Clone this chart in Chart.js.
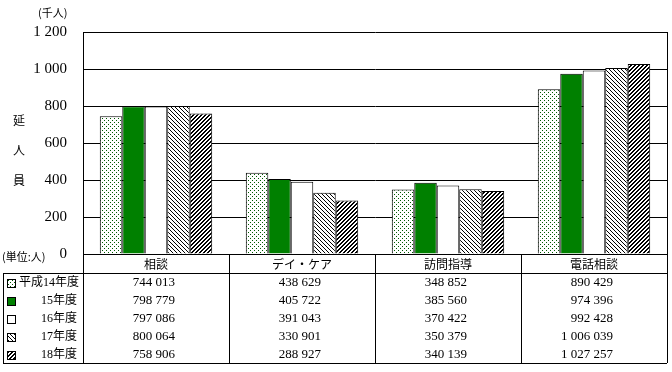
<!DOCTYPE html>
<html>
<head>
<meta charset="utf-8">
<script src="https://cdn.jsdelivr.net/npm/chart.js@4/dist/chart.umd.min.js"></script>
<style>
  html, body { margin: 0; padding: 0; background: #fff; }
  #grafica { display: block; }
</style>
</head>
<body>
<canvas id="grafica" width="672" height="372"></canvas>
<script>
// datos (personas)
const categorias = ['相談', 'デイ・ケア', '訪問指導', '電話相談'];
const anios = ['平成14年度', '15年度', '16年度', '17年度', '18年度'];
const h14 = [744013, 438629, 348852, 890429];
const h15 = [798779, 405722, 385560, 974396];
const h16 = [797086, 391043, 370422, 992428];
const h17 = [800064, 330901, 350379, 1006039];
const h18 = [758906, 288927, 340139, 1027257];
const series = [h14, h15, h16, h17, h18];
const yTicks = [0, 200, 400, 600, 800, 1000, 1200];

const serif = '"Liberation Serif", "Noto Sans CJK JP", serif';
const gothic = '"Noto Sans CJK JP", sans-serif';

// tramas de relleno
const makePattern = (tipo) => {
    const c = document.createElement('canvas');
    c.width = 4;
    c.height = 4;
    const ctx = c.getContext('2d');
    ctx.fillStyle = '#fff';
    ctx.fillRect(0, 0, 4, 4);
    if (tipo === 'puntos') {
        ctx.fillStyle = '#005a00';
        ctx.fillRect(0, 0, 1, 1);
        ctx.fillRect(2, 2, 1, 1);
    } else if (tipo === 'diag') {
        ctx.fillStyle = '#000';
        for (let i = 0; i < 4; i++) ctx.fillRect(i, i, 1, 1);
    } else if (tipo === 'diagGruesa') {
        ctx.fillStyle = '#000';
        for (let y = 0; y < 4; y++) {
            ctx.fillRect(3 - y, y, 1, 1);
            ctx.fillRect((4 - y) % 4, y, 1, 1);
        }
    }
    return ctx.createPattern(c, 'repeat');
};

const rellenos = [
    makePattern('puntos'),
    '#008000',
    '#ffffff',
    makePattern('diag'),
    makePattern('diagGruesa')
];

// tabla de datos + textos extra
const tablaPlugin = {
    id: 'tabla',
    afterDraw(chart) {
        const { ctx, chartArea, scales } = chart;
        const x = scales.x;
        const ancho = x.width / categorias.length;
        const yTop = chartArea.bottom;
        const yHead = yTop + 19;
        const filaH = 18;
        const yBottom = yHead + filaH * anios.length;

        ctx.save();
        ctx.strokeStyle = '#000';
        ctx.lineWidth = 1;

        // marco derecho del área
        ctx.beginPath();
        ctx.moveTo(chartArea.right + 0.5, chartArea.top);
        ctx.lineTo(chartArea.right + 0.5, chartArea.bottom);
        ctx.stroke();

        // líneas de la tabla
        ctx.beginPath();
        ctx.moveTo(chartArea.left, yHead + 0.5);
        ctx.lineTo(chartArea.right, yHead + 0.5);
        ctx.moveTo(3, yHead + 0.5);
        ctx.lineTo(chartArea.left, yHead + 0.5);
        ctx.moveTo(3, yBottom + 0.5);
        ctx.lineTo(chartArea.right, yBottom + 0.5);
        ctx.moveTo(3.5, yHead);
        ctx.lineTo(3.5, yBottom);
        for (let i = 0; i <= categorias.length; i++) {
            const px = Math.round(x.left + ancho * i) + 0.5;
            ctx.moveTo(px, yTop);
            ctx.lineTo(px, yBottom);
        }
        ctx.stroke();

        // encabezados
        ctx.fillStyle = '#000';
        ctx.textBaseline = 'middle';
        ctx.textAlign = 'center';
        ctx.font = '12px ' + gothic;
        categorias.forEach((cat, i) => {
            ctx.fillText(cat, x.getPixelForTick(i), yTop + 10);
        });

        // valores
        ctx.font = '13px ' + serif;
        ctx.textAlign = 'right';
        series.forEach((serie, f) => {
            const cy = yHead + filaH * f + filaH / 2 + 1;
            serie.forEach((v, i) => {
                const txt = v.toLocaleString('en-US').replace(/,/g, ' ');
                ctx.fillText(txt, x.getPixelForTick(i) + 19, cy);
            });
        });

        // leyenda en la primera columna
        anios.forEach((a, f) => {
            const cy = yHead + filaH * f + filaH / 2 + 1;
            ctx.fillStyle = rellenos[f];
            ctx.fillRect(7, cy - 4, 8, 8);
            ctx.strokeStyle = '#000';
            ctx.strokeRect(7.5, cy - 3.5, 8, 8);
            ctx.fillStyle = '#000';
            ctx.font = '12px ' + serif;
            if (f === 0) {
                ctx.textAlign = 'left';
                ctx.fillText(a, 19, cy);
            } else {
                ctx.textAlign = 'right';
                ctx.fillText(a, 77, cy);
            }
        });

        // unidades y título del eje
        ctx.textAlign = 'left';
        ctx.font = '11px ' + gothic;
        ctx.fillText('(単位:人)', 2, yTop + 3);
        ctx.fillText('(千人)', 38, 13);
        ctx.textAlign = 'center';
        ctx.font = '12px ' + gothic;
        ['延', '人', '員'].forEach((c, i) => ctx.fillText(c, 19, 120 + i * 30));
        ctx.restore();
    }
};

const canvas = document.getElementById('grafica');
const context = canvas.getContext('2d');

const grafica = new Chart(context, {
    type: 'bar',
    data: {
        labels: categorias,
        datasets: anios.map((a, i) => ({
            label: a,
            data: series[i].map(v => v / 1000),
            backgroundColor: rellenos[i],
            borderColor: '#000',
            borderWidth: 1,
            categoryPercentage: 0.77,
            barPercentage: 1.0
        }))
    },
    options: {
        responsive: false,
        animation: false,
        layout: {
            padding: { left: 0, top: 32, right: 5, bottom: 0 }
        },
        plugins: {
            legend: { display: false },
            tooltip: { enabled: false }
        },
        scales: {
            x: {
                grid: { display: false },
                border: { color: '#000', width: 1 },
                ticks: { display: false },
                afterFit: (s) => { s.height = 118; }
            },
            y: {
                min: 0,
                max: 1200,
                afterBuildTicks: (s) => { s.ticks = yTicks.map(v => ({ value: v })); },
                grid: { color: '#000', lineWidth: 1, drawTicks: false },
                border: { color: '#000', width: 1 },
                ticks: {
                    color: '#000',
                    padding: 16,
                    font: { family: serif, size: 15 },
                    callback: (v) => v.toLocaleString('en-US').replace(/,/g, ' ')
                },
                afterFit: (s) => { s.width = 83; }
            }
        }
    },
    plugins: [tablaPlugin]
});
</script>
</body>
</html>
